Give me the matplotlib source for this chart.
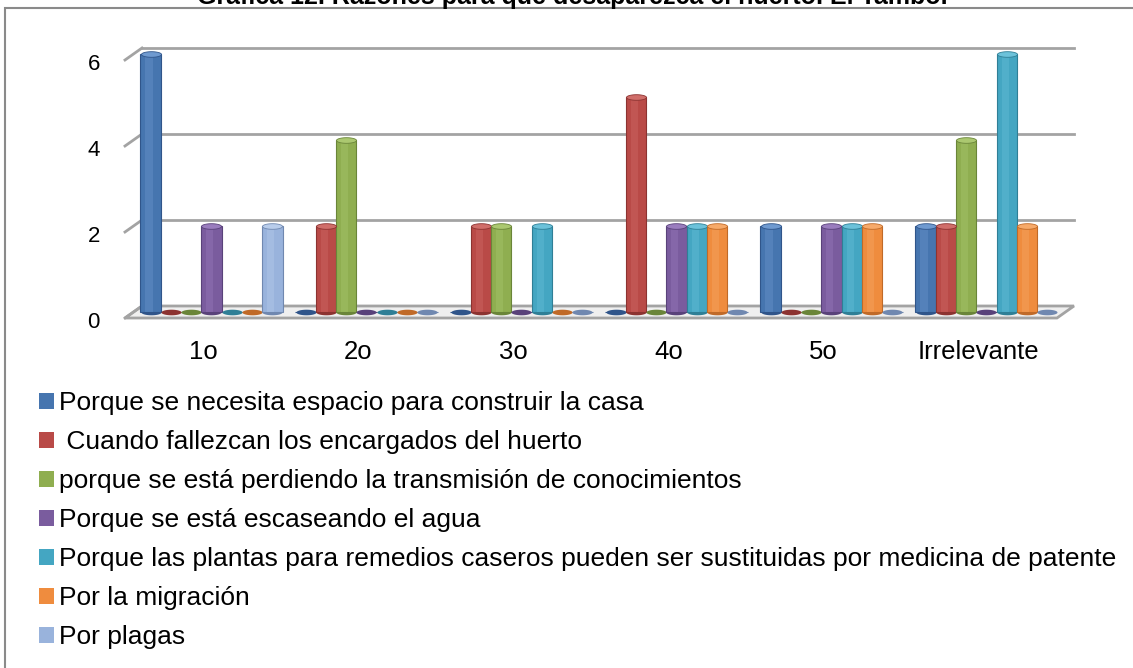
import numpy as np
import matplotlib
matplotlib.use("Agg")
import matplotlib.pyplot as plt
from matplotlib.path import Path
from matplotlib.patches import Patch, Rectangle, Polygon
from matplotlib.lines import Line2D

plt.rcParams['font.family'] = ['Liberation Sans', 'DejaVu Sans']

# data
categories = ['1o', '2o', '3o', '4o', '5o', 'Irrelevante']
series_names = ['Porque se necesita espacio para construir la casa',
                ' Cuando fallezcan los encargados del huerto',
                'porque se está perdiendo la transmisión de conocimientos',
                'Porque se está escaseando el agua',
                'Porque las plantas para remedios caseros pueden ser sustituidas por medicina de patente',
                'Por la migración',
                'Por plagas']
espacio = [6, 0, 0, 0, 2, 2]
fallezcan = [0, 2, 2, 5, 0, 2]
transmision = [0, 4, 2, 0, 0, 4]
agua = [2, 0, 0, 2, 2, 0]
remedios = [0, 0, 2, 2, 2, 6]
migracion = [0, 0, 0, 2, 2, 2]
plagas = [2, 0, 0, 0, 0, 0]
yticks = [0, 2, 4, 6]
title = 'Gráfica 12. Razones para que desaparezca el huerto. El Tambor'

values = [espacio, fallezcan, transmision, agua, remedios, migracion, plagas]
colors = ['#4675AF', '#B94A47', '#8FAE50', '#7A5C9E', '#44A6C2', '#EF8C3E', '#99B3DC']
darks = ['#30558A', '#8C3331', '#6A8539', '#59427A', '#2F7F96', '#C06A28', '#7088B0']
lights = ['#6F9AD0', '#D06E6A', '#ABC870', '#9A7DBE', '#6CC2DA', '#F7AA6A', '#B9CDEB']

W, H = 1133, 668
fig = plt.figure(figsize=(W / 100, H / 100), dpi=100)

# axes placed so that one group = 155 px, one unit = 43 px
x_lo, x_hi = -0.558, 5.455
y_lo, y_hi = -0.2, 6.4
ax_left, ax_right = 125, 1057
y0_px = 312
ax_bot = y0_px - y_lo * 43
ax_top = y0_px - y_hi * 43
ax = fig.add_axes([ax_left / W, 1 - ax_bot / H, (ax_right - ax_left) / W, (ax_bot - ax_top) / H])
ax.set_xlim(x_lo, x_hi)
ax.set_ylim(y_lo, y_hi)
ax.axis('off')

px_x = 1 / 155
px_y = 1 / 43
back_dx, back_dy = 17 * px_x, 6 * px_y
front_dy = -6 * px_y
grid_c = '#A3A3A3'

# floor
floor = Polygon([(x_lo, front_dy), (x_hi, front_dy), (x_hi + back_dx, back_dy), (x_lo + back_dx, back_dy)],
                closed=True, facecolor='#EFEFEF', edgecolor=grid_c, lw=2, zorder=1, clip_on=False)
ax.add_patch(floor)

# back wall grid lines and left side ticks
for v in yticks:
    if v > 0:
        ax.add_line(Line2D([x_lo + back_dx, x_hi + back_dx], [v + back_dy, v + back_dy],
                           color=grid_c, lw=2, zorder=1, clip_on=False))
    ax.add_line(Line2D([x_lo, x_lo + back_dx], [v + front_dy, v + back_dy],
                       color=grid_c, lw=2, zorder=1, clip_on=False))
    ax.annotate(str(v), xy=(x_lo, v + front_dy), xytext=(-25, -4), textcoords='offset pixels',
                ha='right', va='center', fontsize=16)

# ellipse marker for cylinder caps
t = np.linspace(0, 2 * np.pi, 60)
ell = Path(np.column_stack([np.cos(t), 0.28 * np.sin(t)]), closed=True)

n = len(values)
bw = 20.3 * px_x
x = np.arange(len(categories))
cap_size = (20 * 0.72) ** 2
for j, (vals, c, d, l) in enumerate(zip(values, colors, darks, lights)):
    xs = x + (j - (n - 1) / 2) * bw
    vals = np.array(vals, dtype=float)
    ax.scatter(xs, np.zeros_like(xs), marker=ell, s=cap_size, color=d, zorder=3, linewidths=0)
    ax.bar(xs, vals, width=bw, color=c, edgecolor=d, linewidth=0.8, zorder=4)
    ax.bar(xs - bw * 0.08, vals, width=bw * 0.35, color=l, alpha=0.35, linewidth=0, zorder=4)
    nz = vals > 0
    ax.scatter(xs[nz], vals[nz], marker=ell, s=cap_size, color=l, edgecolors=d, linewidths=0.6, zorder=5)

for i, cat in enumerate(categories):
    ax.annotate(cat, xy=(x[i], 0), xytext=(-8, -40), textcoords='offset pixels',
                ha='center', va='center', fontsize=18.5)

# legend
handles = [Patch(facecolor=c, edgecolor='none') for c in colors]
fig.legend(handles, series_names, loc='upper left', bbox_to_anchor=(39 / W, 1 - 391 / H),
           frameon=False, fontsize=19, handlelength=0.55, handleheight=0.55, handletextpad=0.2,
           labelspacing=0.57, borderpad=0, borderaxespad=0)

# outer frame and clipped title
fig.add_artist(Rectangle((5 / W, -0.1), 1.2, 1 - 8 / H + 0.1, transform=fig.transFigure,
                         fill=False, edgecolor='#8A8A8A', lw=1.5))
fig.text(574 / W, 1 - 4 / H, title, ha='center', va='baseline', fontsize=18, fontweight='bold')

fig.savefig('out.png', dpi=100)
